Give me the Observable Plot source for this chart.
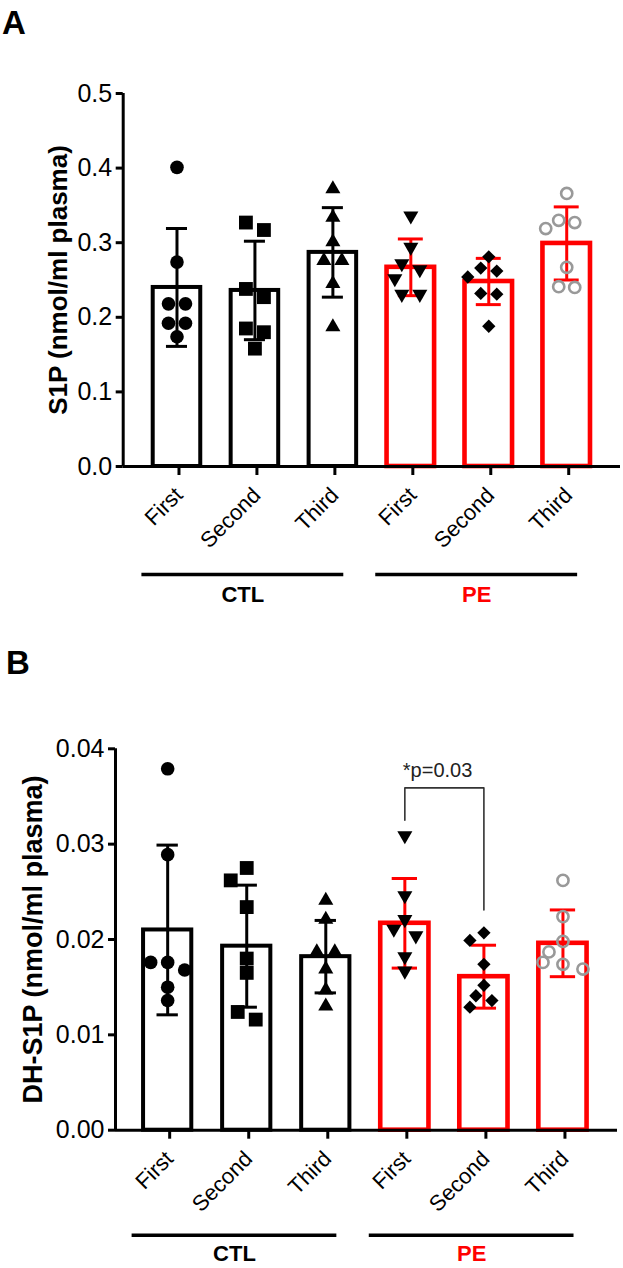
<!DOCTYPE html>
<html><head><meta charset="utf-8">
<script src="https://cdn.jsdelivr.net/npm/d3@7"></script>
<script src="https://cdn.jsdelivr.net/npm/@observablehq/plot@0.6"></script>
<style>
body{margin:0;background:#fff;font-family:"Liberation Sans",Arial,sans-serif;}
.panel{position:relative;width:623px;height:634px;}
.letter{position:absolute;font-weight:bold;font-size:33px;line-height:1;color:#000;}
svg{display:block;}
</style></head><body>
<div id="A" class="panel"><div class="letter" style="left:2px;top:6px">A</div></div>
<div id="B" class="panel"><div class="letter" style="left:6px;top:12px">B</div></div>
<script>
// ---------- data ----------
const groups = ["CTL", "PE"];
const times = ["First", "Second", "Third"];

// Panel A: S1P (nmol/ml plasma)
const s1pMean = [0.240, 0.236, 0.287, 0.267, 0.248, 0.299];
const s1pSD   = [0.079, 0.066, 0.060, 0.038, 0.031, 0.049];
const s1pCTLFirst  = [0.401, 0.274, 0.218, 0.218, 0.192, 0.192, 0.174];
const s1pCTLSecond = [0.327, 0.317, 0.238, 0.227, 0.185, 0.180, 0.158];
const s1pCTLThird  = [0.372, 0.334, 0.301, 0.276, 0.276, 0.245, 0.187];
const s1pPEFirst   = [0.336, 0.294, 0.272, 0.264, 0.252, 0.231, 0.231];
const s1pPESecond  = [0.281, 0.266, 0.262, 0.254, 0.232, 0.231, 0.188];
const s1pPEThird   = [0.366, 0.330, 0.327, 0.319, 0.267, 0.241, 0.240];
const s1pTicks = [0, 0.1, 0.2, 0.3, 0.4, 0.5];

// Panel B: DH-S1P (nmol/ml plasma)
const dhMean = [0.0210, 0.0193, 0.0182, 0.0217, 0.0161, 0.0196];
const dhSD   = [0.0089, 0.0064, 0.0038, 0.0047, 0.0033, 0.0035];
const dhCTLFirst  = [0.0379, 0.0289, 0.0176, 0.0176, 0.0168, 0.0150, 0.0136];
const dhCTLSecond = [0.0275, 0.0262, 0.0234, 0.0180, 0.0165, 0.0124, 0.0116];
const dhCTLThird  = [0.0241, 0.0221, 0.0187, 0.0187, 0.0169, 0.0147, 0.0130];
const dhPEFirst   = [0.0309, 0.0246, 0.0221, 0.0211, 0.0204, 0.0182, 0.0167];
const dhPESecond  = [0.0207, 0.0199, 0.0174, 0.0152, 0.0141, 0.0136, 0.0129];
const dhPEThird   = [0.0262, 0.0224, 0.0198, 0.0187, 0.0176, 0.0174, 0.0169];
const dhTicks = [0, 0.01, 0.02, 0.03, 0.04];
const dhBracket = {from: "PE First", to: "PE Second", top: 0.0359, leftEnd: 0.0325, rightEnd: 0.0231, label: "*p=0.03"};

// ---------- styles ----------
const RED = "#ff0000";
const catStyle = [
  {symbol: "circle",   r: 6.8, rotate: 0,   fill: "black", stroke: "none", sw: 0, d: 13},
  {symbol: "square",   r: 7.8, rotate: 0,   fill: "black", stroke: "none", sw: 0, d: 14},
  {symbol: "triangle", r: 5.6, rotate: 0,   fill: "black", stroke: "none", sw: 0, d: 14},
  {symbol: "triangle", r: 5.6, rotate: 180, fill: "black", stroke: "none", sw: 0, d: 14},
  {symbol: "square",   r: 5.3, rotate: 45,  fill: "black", stroke: "none", sw: 0, d: 12},
  {symbol: "circle",   r: 5.6, rotate: 0,   fill: "none",  stroke: "#999999", sw: 2.6, d: 12}
];
const groupColor = {CTL: "black", PE: RED};

// symmetric swarm layout (pixel space), like a GraphPad scatter column
function swarm(py, d) {
  const n = py.length, order = d3.range(n).sort((a, b) => py[a] - py[b]);
  const off = new Array(n), placed = [];
  const ok = (x, y) => placed.every(p => Math.hypot(p[0] - x, p[1] - y) >= d);
  let i = 0;
  while (i < n) {
    let j = i + 1;
    while (j < n && py[order[j]] - py[order[i]] < d * 0.6) j++;
    const row = order.slice(i, j), k = row.length;
    let xs;
    if (k === 1) {
      const y = py[row[0]];
      const c = [0, -1, 1, -1.5, 1.5].map(m => m * (d + 2)).find(c => ok(c, y));
      xs = [c ?? 0];
    } else {
      for (let s = d + 4; s < 5 * d; s += 2) {
        xs = row.map((_, m) => (m - (k - 1) / 2) * s);
        if (row.every((r, m) => ok(xs[m], py[r]))) break;
      }
    }
    row.forEach((r, m) => { off[r] = xs[m]; placed.push([xs[m], py[r]]); });
    i = j;
  }
  return off;
}

function panel(cfg) {
  const W = 623, H = 634;
  const {values, means, sds, yMax, yTicks, yFormat, yLabel, labelSize, mt, mb, ml, mr, xDom, labelDx, lineDy, groupDy, bracket} = cfg;
  const pxY = (H - mt - mb) / yMax;
  const pxX = (W - ml - mr) / (xDom[1] - xDom[0]);
  const cats = groups.flatMap(g => times.map(t => ({g, t, name: g + " " + t})));
  const bars = cats.map((c, i) => ({...c, i, mean: means[i], sd: sds[i]}));
  const pts = [];
  values.forEach((vals, i) => {
    const offs = swarm(vals.map(v => -v * pxY), catStyle[i].d);
    vals.forEach((v, k) => pts.push({i, v, x: i + offs[k] / pxX}));
  });
  const bw = 0.305;
  const marks = [];
  for (const g of groups) {
    const col = groupColor[g];
    const gb = bars.filter(b => b.g === g);
    const sw = g === "PE" ? 4.6 : 4;
    const cap = g === "PE" ? 0.16 : 0.135;
    marks.push(Plot.rectY(gb, {x1: d => d.i - bw, x2: d => d.i + bw, y1: 0, y2: "mean", fill: "white", stroke: col, strokeWidth: sw}));
    marks.push(Plot.ruleX(gb, {x: "i", y1: d => d.mean - d.sd, y2: d => d.mean + d.sd, stroke: col, strokeWidth: 3}));
    marks.push(Plot.ruleY(gb.flatMap(d => [{i: d.i, y: d.mean - d.sd}, {i: d.i, y: d.mean + d.sd}]),
      {y: "y", x1: d => d.i - cap, x2: d => d.i + cap, stroke: col, strokeWidth: 3}));
  }
  cats.forEach((c, i) => {
    const s = catStyle[i];
    marks.push(Plot.dot(pts.filter(p => p.i === i), {x: "x", y: "v", symbol: s.symbol, r: s.r, rotate: s.rotate,
      fill: s.fill, stroke: s.stroke, strokeWidth: s.sw}));
  });
  // axes
  marks.push(Plot.ruleY([0], {stroke: "black", strokeWidth: 3}));
  marks.push(Plot.ruleX([xDom[0]], {y1: 0, y2: yMax, stroke: "black", strokeWidth: 3}));
  marks.push(Plot.axisY({ticks: yTicks, tickFormat: yFormat, tickSize: 7, tickPadding: 4, fontSize: 25, strokeWidth: 3, label: null, stroke: "black", fill: "black"}));
  marks.push(Plot.axisX({ticks: d3.range(6), tickFormat: i => times[i % 3], tickRotate: -45, tickSize: 9, tickPadding: 16, dx: 2,
    fontSize: 22, strokeWidth: 3, label: null, stroke: "black", fill: "black"}));
  // y label
  marks.push(Plot.text([yLabel], {frameAnchor: "left", textAnchor: "middle", rotate: -90, dx: labelDx, text: d => d, fontSize: labelSize, fontWeight: "bold", fill: "black"}));
  // group brackets
  groups.forEach((g, gi) => {
    const s = gi * 3 - 0.45, e = gi * 3 + 2 + 0.14;
    marks.push(Plot.ruleY([0], {x1: s, x2: e, dy: lineDy, stroke: "black", strokeWidth: 3.5}));
    marks.push(Plot.text([g], {x: (s + e) / 2, y: 0, dy: groupDy, text: d => d, fontSize: 22, fontWeight: "bold", fill: groupColor[g]}));
  });
  if (bracket) {
    const a = cats.findIndex(c => c.name === bracket.from), b = cats.findIndex(c => c.name === bracket.to);
    marks.push(Plot.line([{x: a, y: bracket.leftEnd}, {x: a, y: bracket.top}, {x: b, y: bracket.top}, {x: b, y: bracket.rightEnd}],
      {x: "x", y: "y", stroke: "#333", strokeWidth: 1.6}));
    marks.push(Plot.text([bracket], {x: a, y: "top", text: "label", textAnchor: "start", lineAnchor: "bottom", dx: -2, dy: -11, fontSize: 20, fill: "#222"}));
  }
  return Plot.plot({
    width: W, height: H, marginTop: mt, marginBottom: mb, marginLeft: ml, marginRight: mr,
    x: {type: "linear", domain: xDom, axis: null},
    y: {domain: [0, yMax], axis: null},
    style: {fontFamily: "'Liberation Sans', Arial, sans-serif", background: "white", color: "black", overflow: "visible"},
    marks
  });
}

document.getElementById("A").appendChild(panel({
  values: [s1pCTLFirst, s1pCTLSecond, s1pCTLThird, s1pPEFirst, s1pPESecond, s1pPEThird],
  means: s1pMean, sds: s1pSD, yMax: 0.5, yTicks: s1pTicks, yFormat: d3.format(".1f"),
  yLabel: "S1P (nmol/ml plasma)", labelSize: 26, mt: 93, mb: 168, ml: 122.7, mr: 3, xDom: [-0.69, 5.69], labelDx: -65,
  lineDy: 108, groupDy: 128
}));
document.getElementById("B").appendChild(panel({
  values: [dhCTLFirst, dhCTLSecond, dhCTLThird, dhPEFirst, dhPESecond, dhPEThird],
  means: dhMean, sds: dhSD, yMax: 0.04, yTicks: dhTicks, yFormat: d3.format(".2f"),
  yLabel: "DH-S1P (nmol/ml plasma)", labelSize: 27, mt: 114.3, mb: 138.3, ml: 115, mr: 6, xDom: [-0.66, 5.69], labelDx: -82,
  lineDy: 105, groupDy: 124,
  bracket: dhBracket
}));
</script>
</body></html>
